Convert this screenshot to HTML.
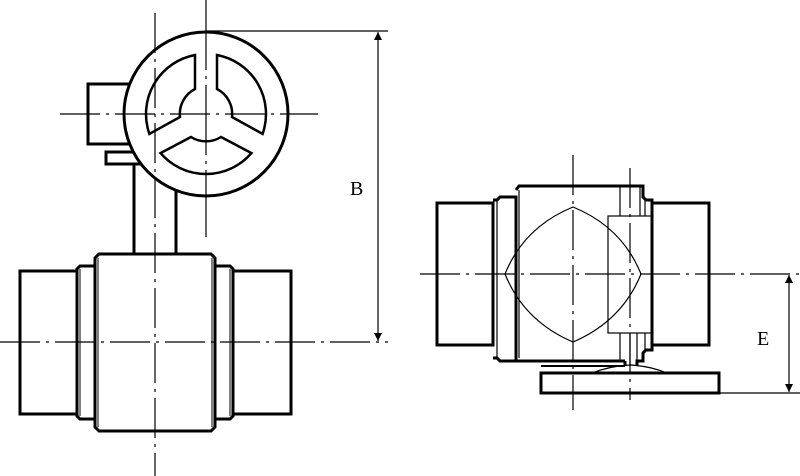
<!DOCTYPE html>
<html><head><meta charset="utf-8"><style>
html,body{margin:0;padding:0;background:#fff;width:800px;height:476px;overflow:hidden}
svg{display:block}
text{font-family:"Liberation Serif",serif;font-size:20px;fill:#000}
</style></head><body>
<svg width="800" height="476" viewBox="0 0 800 476" xmlns="http://www.w3.org/2000/svg">
<defs>
<marker id="ar" viewBox="0 0 10 10" refX="10" refY="5" markerWidth="8" markerHeight="14" orient="auto" markerUnits="userSpaceOnUse"><path d="M0,0 L10,5 L0,10 Z" fill="#000"/></marker>
</defs>
<g fill="none" stroke="#000">
<g stroke-width="3">
<rect x="88" y="84" width="42" height="60" fill="#fff"/>
<rect x="106" y="152" width="36" height="12" fill="#fff"/>
<path d="M134,164 V255 M176,175 V255"/>
</g>
<circle cx="206" cy="114" r="82" stroke-width="3" fill="#fff"/>
<g stroke-width="2.5" fill="none">
<path d="M217,55 A60,60 0 0 1 262.6,133.9 L232,117 A28,28 0 0 0 217,89 Z"/>
<path d="M195,55 A60,60 0 0 0 149.4,133.9 L180,117 A28,28 0 0 1 195,89 Z"/>
<path d="M160.5,153.1 A60,60 0 0 0 251.5,153.1 L221,137 A28,28 0 0 1 191,137 Z"/>
</g>
<g stroke-width="1.2" stroke-dasharray="40,6,3,6">
<line x1="155" y1="13" x2="155" y2="476"/>
<line x1="0" y1="342" x2="388" y2="342"/>
<line x1="60" y1="114" x2="318" y2="114"/>
</g>
<line x1="206" y1="0" x2="206" y2="237" stroke-width="1.2" stroke-dasharray="70,6,3,6"/>
<g stroke-width="3">
<path d="M99,254 H211 L215,258 V427 L211,431 H99 L95,427 V258 Z"/>
<path d="M95,266 H80 L77,269 V416 L80,419 H95"/>
<path d="M215,266 H230 L233,269 V416 L230,419 H215"/>
<rect x="20" y="271" width="57" height="143"/>
<rect x="233" y="271" width="58" height="143"/>
</g>
<g stroke-width="1">
<path d="M80,269 V416 M98,258 V427 M212,258 V427 M230,269 V416"/>
</g>
<g stroke-width="1.2">
<line x1="206" y1="31" x2="388" y2="31"/>
<line x1="378" y1="186" x2="378" y2="32" marker-end="url(#ar)"/>
<line x1="378" y1="186" x2="378" y2="341" marker-end="url(#ar)"/>
</g>
<g stroke-width="1.2" stroke-dasharray="40,6,3,6">
<line x1="420" y1="274" x2="800" y2="274"/>
<line x1="573" y1="155" x2="573" y2="410"/>
<line x1="630" y1="168" x2="630" y2="400"/>
</g>
<g stroke-width="3">
<rect x="437" y="203" width="56" height="142"/>
<path d="M493,200 H497 L500,197 H516 V361 H500 L497,358 H493"/>
<path d="M516,190 L519,186 H643 V197 L646,200 H652 V350 H646 L643,353 V361 H637 V366 M625,361 H516 M625,361 V366"/>
<rect x="652" y="203" width="57" height="142"/>
<rect x="541" y="373" width="178" height="20"/>
</g>
<g stroke-width="1.2">
<path d="M497,200 V358 M519,190 V358"/>
<rect x="608" y="216" width="44" height="117"/>
<path d="M620,186 V216 M640,186 V216 M645,200 V216 M620,333 V361 M630,333 V366 M637,333 V361 M645,333 V350"/>
<path d="M505,274 Q524,227 573,207 Q622,227 641,274 Q622,321 573,342 Q524,321 505,274 Z"/>
<path d="M592,373 Q610,366 630,365 Q650,366 667,373"/>
<line x1="541" y1="366" x2="625" y2="366" stroke-width="2"/>
</g>
<g stroke-width="1.2">
<line x1="719" y1="393" x2="800" y2="393"/>
<line x1="789" y1="334" x2="789" y2="275" marker-end="url(#ar)"/>
<line x1="789" y1="334" x2="789" y2="392" marker-end="url(#ar)"/>
</g>
</g>
<text x="350" y="195">B</text>
<text x="757" y="345">E</text>
</svg>
</body></html>
